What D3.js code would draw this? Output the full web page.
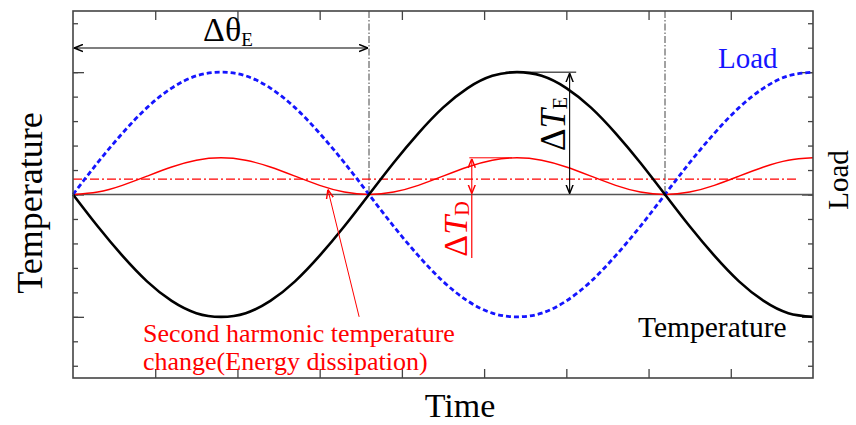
<!DOCTYPE html>
<html>
<head>
<meta charset="utf-8">
<script src="https://cdn.jsdelivr.net/npm/d3@7"></script>
<style>
  html, body { margin: 0; padding: 0; background: #fff; }
  svg { display: block; }
  text { font-family: "Liberation Serif", "Times New Roman", serif; }
</style>
</head>
<body>
<svg id="chart" width="856" height="425"></svg>
<script>
// ---- data (phase angle in degrees, normalised amplitudes) ----
const phase = [0,15,30,45,60,75,90,105,120,135,150,165,180,195,210,225,240,255,270,285,300,315,330,345,360,375,390,405,420,435,450];
const loadValues = [0,0.26,0.5,0.71,0.87,0.97,1,0.97,0.87,0.71,0.5,0.26,0,-0.26,-0.5,-0.71,-0.87,-0.97,-1,-0.97,-0.87,-0.71,-0.5,-0.26,0,0.26,0.5,0.71,0.87,0.97,1];
const temperatureValues = [0,-0.26,-0.5,-0.71,-0.87,-0.97,-1,-0.97,-0.87,-0.71,-0.5,-0.26,0,0.26,0.5,0.71,0.87,0.97,1,0.97,0.87,0.71,0.5,0.26,0,-0.26,-0.5,-0.71,-0.87,-0.97,-1];
const harmonicValues = [0,0.02,0.075,0.15,0.225,0.28,0.3,0.28,0.225,0.15,0.075,0.02,0,0.02,0.075,0.15,0.225,0.28,0.3,0.28,0.225,0.15,0.075,0.02,0,0.02,0.075,0.15,0.225,0.28,0.3];
const harmonicMean = 0.125;
const xTicks = [50,100,150,200,250,300,350,400];
const yTicks = [-1.4,-1.2,-1,-0.8,-0.6,-0.4,-0.2,0,0.2,0.4,0.6,0.8,1,1.2,1.4];
const yMajorTicks = [-1,0,1];
const lagMarks = [180,360];
const xDomain = [0,450];
const yDomain = [-1.5,1.5];

// ---- layout ----
const L = 73, R = 813, T = 11, B = 378;
const svg = d3.select("#chart");
const x = d3.scaleLinear().domain(xDomain).range([L, R]);
const y = d3.scaleLinear().domain(yDomain).range([B, T]);

const defs = svg.append("defs");
function marker(id, color) {
  const m = defs.append("marker").attr("id", id)
    .attr("viewBox", "0 0 10 10").attr("refX", 10).attr("refY", 5)
    .attr("markerWidth", 9).attr("markerHeight", 9).attr("markerUnits", "userSpaceOnUse")
    .attr("orient", "auto-start-reverse");
  m.append("path").attr("d", "M0,1 L10,5 L0,9").attr("fill", "none").attr("stroke", color).attr("stroke-width", 1.6);
}
marker("arrK", "#000");
marker("arrR", "#f00");

const axisColor = "#444";

// frame ticks
function styleAxis(g) {
  g.select(".domain").remove();
  g.selectAll("line").attr("stroke", axisColor).attr("stroke-width", 1.3);
  g.selectAll("text").remove();
}
svg.append("g").attr("transform", `translate(0,${T})`)
  .call(d3.axisBottom(x).tickValues(xTicks).tickSize(9).tickFormat("")).call(styleAxis);
svg.append("g").attr("transform", `translate(0,${B})`)
  .call(d3.axisTop(x).tickValues(xTicks).tickSize(9).tickFormat("")).call(styleAxis);
svg.append("g").attr("transform", `translate(${L},0)`)
  .call(d3.axisRight(y).tickValues(yTicks).tickSize(5).tickFormat("")).call(styleAxis);
svg.append("g").attr("transform", `translate(${L},0)`)
  .call(d3.axisRight(y).tickValues(yMajorTicks).tickSize(11).tickFormat("")).call(styleAxis);
svg.append("g").attr("transform", `translate(${R},0)`)
  .call(d3.axisLeft(y).tickValues(yTicks).tickSize(5).tickFormat("")).call(styleAxis);
svg.append("g").attr("transform", `translate(${R},0)`)
  .call(d3.axisLeft(y).tickValues(yMajorTicks).tickSize(11).tickFormat("")).call(styleAxis);

// zero line
svg.append("line").attr("x1", x(0)).attr("x2", x(450)).attr("y1", y(0)).attr("y2", y(0))
  .attr("stroke", "#555").attr("stroke-width", 1.5);

// lag marker lines
svg.selectAll(".lag").data(lagMarks).enter().append("line")
  .attr("x1", d => x(d)).attr("x2", d => x(d)).attr("y1", T).attr("y2", y(0))
  .attr("stroke", "#444").attr("stroke-width", 1).attr("stroke-dasharray", "7,2,1.5,2");

// mean of harmonic (dash-dot)
svg.append("line").attr("x1", x(0)).attr("x2", x(440)).attr("y1", y(harmonicMean)).attr("y2", y(harmonicMean))
  .attr("stroke", "#f00").attr("stroke-width", 1.2).attr("stroke-dasharray", "9,3,2,3");

const line = (vals) => d3.line().x((d, i) => x(phase[i])).y(d => y(d)).curve(d3.curveNatural)(vals);

svg.append("path").attr("d", line(harmonicValues)).attr("fill", "none").attr("stroke", "#f00").attr("stroke-width", 1.4);
svg.append("path").attr("d", line(loadValues)).attr("fill", "none").attr("stroke", "#1515ff").attr("stroke-width", 2.8).attr("stroke-dasharray", "5,3");
svg.append("path").attr("d", line(temperatureValues)).attr("fill", "none").attr("stroke", "#000").attr("stroke-width", 2.6);

// frame
svg.append("rect").attr("x", L).attr("y", T).attr("width", R - L).attr("height", B - T)
  .attr("fill", "none").attr("stroke", axisColor).attr("stroke-width", 1.6);

// Δθ_E arrow
svg.append("line").attr("x1", x(0) + 1).attr("x2", x(180) - 1).attr("y1", 48).attr("y2", 48)
  .attr("stroke", "#000").attr("stroke-width", 1.1)
  .attr("marker-start", "url(#arrK)").attr("marker-end", "url(#arrK)");
const dTheta = svg.append("text").attr("x", 228).attr("y", 41).attr("text-anchor", "middle").attr("font-size", 34);
dTheta.append("tspan").text("Δθ");
dTheta.append("tspan").attr("font-size", 19).attr("dy", 5).text("E");

// ΔT_E
svg.append("line").attr("x1", x(263)).attr("x2", x(306)).attr("y1", y(1)).attr("y2", y(1))
  .attr("stroke", "#000").attr("stroke-width", 1);
svg.append("line").attr("x1", x(302)).attr("x2", x(302)).attr("y1", y(1) + 1).attr("y2", y(0) - 1)
  .attr("stroke", "#000").attr("stroke-width", 1.1)
  .attr("marker-start", "url(#arrK)").attr("marker-end", "url(#arrK)");
const dTE = svg.append("text").attr("transform", `translate(565,124) rotate(-90)`)
  .attr("text-anchor", "middle").attr("font-size", 35).attr("fill", "#000");
dTE.append("tspan").text("Δ");
dTE.append("tspan").attr("font-style", "italic").text("T");
dTE.append("tspan").attr("font-size", 20).attr("dy", 2).text("E");

// ΔT_D
svg.append("line").attr("x1", x(241)).attr("x2", x(267)).attr("y1", y(0.3)).attr("y2", y(0.3))
  .attr("stroke", "#f00").attr("stroke-width", 1);
svg.append("line").attr("x1", x(242.5)).attr("x2", x(242.5)).attr("y1", y(0.3) + 1).attr("y2", y(0) - 1)
  .attr("stroke", "#f00").attr("stroke-width", 1.1)
  .attr("marker-start", "url(#arrR)").attr("marker-end", "url(#arrR)");
svg.append("line").attr("x1", x(242.5)).attr("x2", x(242.5)).attr("y1", y(0)).attr("y2", 258)
  .attr("stroke", "#f00").attr("stroke-width", 1.2);
const dTD = svg.append("text").attr("transform", `translate(467,229) rotate(-90)`)
  .attr("text-anchor", "middle").attr("font-size", 34).attr("fill", "#f00");
dTD.append("tspan").text("Δ");
dTD.append("tspan").attr("font-style", "italic").text("T");
dTD.append("tspan").attr("font-size", 20).attr("dy", 2).text("D");

// second harmonic pointer
svg.append("line").attr("x1", x(174)).attr("y1", y(-1.0)).attr("x2", x(155)).attr("y2", y(0.04))
  .attr("stroke", "#f00").attr("stroke-width", 1)
  .attr("marker-end", "url(#arrR)");
svg.append("text").attr("x", 143).attr("y", 342).attr("font-size", 26).attr("fill", "#f00")
  .text("Second harmonic temperature");
svg.append("text").attr("x", 143).attr("y", 370).attr("font-size", 26).attr("fill", "#f00")
  .text("change(Energy dissipation)");

// series labels
svg.append("text").attr("x", 718).attr("y", 68).attr("font-size", 29).attr("fill", "#1515ff").text("Load");
svg.append("text").attr("x", 638).attr("y", 337).attr("font-size", 29.5).attr("fill", "#000").text("Temperature");

// axis titles
svg.append("text").attr("x", 460).attr("y", 417).attr("text-anchor", "middle").attr("font-size", 34).text("Time");
svg.append("text").attr("transform", "translate(42,203) rotate(-90)").attr("text-anchor", "middle").attr("font-size", 36).text("Temperature");
svg.append("text").attr("transform", "translate(848,180) rotate(-90)").attr("text-anchor", "middle").attr("font-size", 29).text("Load");
</script>
</body>
</html>
